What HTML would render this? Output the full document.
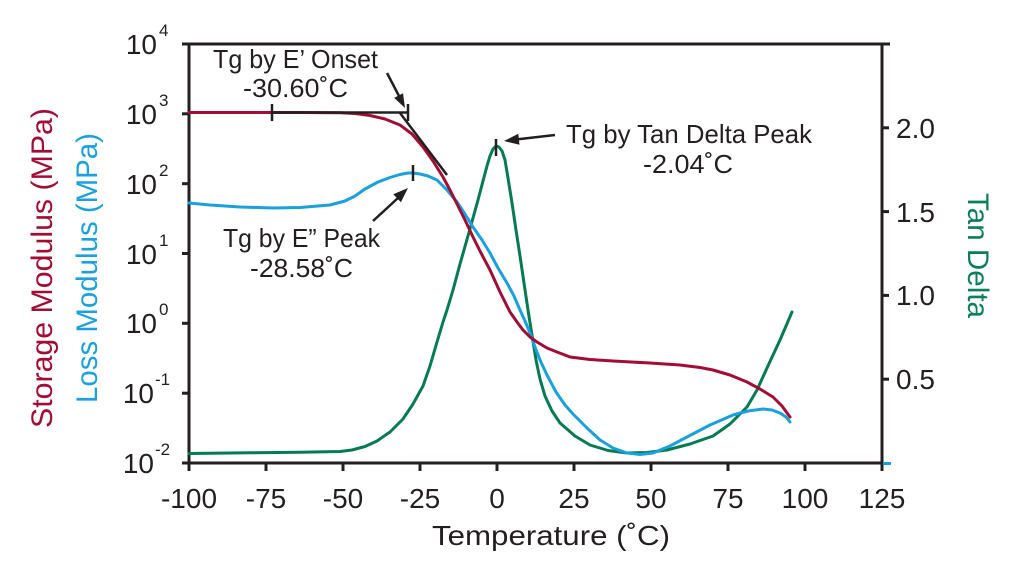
<!DOCTYPE html>
<html>
<head>
<meta charset="utf-8">
<style>
  html, body { margin: 0; padding: 0; background: #ffffff; }
  svg { display: block; }
  text { font-family: "Liberation Sans", "DejaVu Sans", sans-serif; fill: #231f20; }
</style>
</head>
<body>
<svg width="1024" height="576" viewBox="0 0 1024 576" xmlns="http://www.w3.org/2000/svg">
  <rect x="0" y="0" width="1024" height="576" fill="#ffffff"/>

  <!-- Axes -->
  <g stroke="#231f20" stroke-width="3" fill="none" stroke-linecap="butt">
    <line x1="182" y1="44" x2="890" y2="44"/>
    <line x1="189" y1="44" x2="189" y2="471"/>
    <line x1="882" y1="44" x2="882" y2="471"/>
    <line x1="182" y1="463" x2="882" y2="463"/>
    <!-- left ticks -->
    <line x1="182" y1="113.8" x2="189" y2="113.8"/>
    <line x1="182" y1="183.7" x2="189" y2="183.7"/>
    <line x1="182" y1="253.5" x2="189" y2="253.5"/>
    <line x1="182" y1="323.3" x2="189" y2="323.3"/>
    <line x1="182" y1="393.2" x2="189" y2="393.2"/>
    <!-- right ticks -->
    <line x1="882" y1="127.8" x2="889" y2="127.8"/>
    <line x1="882" y1="211.6" x2="889" y2="211.6"/>
    <line x1="882" y1="295.4" x2="889" y2="295.4"/>
    <line x1="882" y1="379.2" x2="889" y2="379.2"/>
    <!-- bottom ticks -->
    <line x1="266" y1="463" x2="266" y2="471"/>
    <line x1="343" y1="463" x2="343" y2="471"/>
    <line x1="420" y1="463" x2="420" y2="471"/>
    <line x1="497" y1="463" x2="497" y2="471"/>
    <line x1="574" y1="463" x2="574" y2="471"/>
    <line x1="651" y1="463" x2="651" y2="471"/>
    <line x1="728" y1="463" x2="728" y2="471"/>
    <line x1="805" y1="463" x2="805" y2="471"/>
  </g>
  <line x1="883" y1="463.5" x2="891" y2="463.5" stroke="#1aa0dc" stroke-width="3"/>

  <!-- Left tick labels -->
  <g font-size="28">
    <text x="157" y="54" text-anchor="end">10</text><text x="159" y="36" font-size="17">4</text>
    <text x="157" y="124" text-anchor="end">10</text><text x="159" y="106" font-size="17">3</text>
    <text x="157" y="194" text-anchor="end">10</text><text x="159" y="176" font-size="17">2</text>
    <text x="157" y="264" text-anchor="end">10</text><text x="159" y="246" font-size="17">1</text>
    <text x="157" y="333" text-anchor="end">10</text><text x="159" y="315" font-size="17">0</text>
    <text x="154" y="403" text-anchor="end">10</text><text x="155" y="385" font-size="17">-1</text>
    <text x="154" y="473" text-anchor="end">10</text><text x="155" y="455" font-size="17">-2</text>
  </g>

  <!-- Right tick labels -->
  <g font-size="28">
    <text x="896" y="138">2.0</text>
    <text x="896" y="222">1.5</text>
    <text x="896" y="305">1.0</text>
    <text x="896" y="389">0.5</text>
  </g>

  <!-- Bottom tick labels -->
  <g font-size="28" text-anchor="middle">
    <text x="189" y="508">-100</text>
    <text x="266" y="508">-75</text>
    <text x="343" y="508">-50</text>
    <text x="420" y="508">-25</text>
    <text x="497" y="508">0</text>
    <text x="574" y="508">25</text>
    <text x="651" y="508">50</text>
    <text x="728" y="508">75</text>
    <text x="805" y="508">100</text>
    <text x="882" y="508">125</text>
  </g>

  <!-- Axis titles -->
  <text x="432" y="545" font-size="28" textLength="238" lengthAdjust="spacingAndGlyphs">Temperature (˚C)</text>
  <text transform="translate(52,428) rotate(-90)" font-size="30" style="fill:#a10d35" textLength="320" lengthAdjust="spacingAndGlyphs">Storage Modulus (MPa)</text>
  <text transform="translate(97,403) rotate(-90)" font-size="30" style="fill:#1ba1dd" textLength="270" lengthAdjust="spacingAndGlyphs">Loss Modulus (MPa)</text>
  <text transform="translate(968,193) rotate(90)" font-size="30" style="fill:#0b7f5a" textLength="125" lengthAdjust="spacingAndGlyphs">Tan Delta</text>

  <!-- Curves -->
  <g fill="none" stroke-width="3" stroke-linejoin="round" stroke-linecap="round">
    <!-- Tan Delta (green) -->
    <polyline stroke="#067a52" points="189,453.5 250,452.8 300,452.2 340,451.5 352,450 365,446.5 377,441 390,432 403,419 413,404 423,386 430,366 437,342 443,322 447,310 453,290 460,264 466,243 473,218 478,200 483,181 487,166 490,156 493,149 496,146 499,147 502,151 505,160 508,178 512,203 516,230 520,256 524,283 528,310 532,335 536,360 540,379 545,396 552,411 560,423 575,436 590,445 608,450.5 627,453 647,452.5 667,450 690,444 713,436 730,424 747,407 757,390 767,368 780,340 792,312"/>
    <!-- Loss modulus (blue) -->
    <polyline stroke="#1aa0dc" points="189,203 210,205 240,207 273,208 300,207.5 330,205 345,201 355,196 365,189 378,182 390,177.5 400,174.5 408,173 413,173 420,174 428,176 437,180 447,190 457,202 465,214 473,227 482,240 490,253 498,268 507,283 514,296 520,310 525,321 530,333 535,347 540,360 547,375 556,392 565,405 573,414 587,428 600,440 613,448 627,453 640,454.5 653,453 670,446 687,437 710,425 733,415 748,411 763,409 772,410 780,413 786,417 790,422"/>
    <!-- Storage modulus (red) -->
    <polyline stroke="#a10d35" points="189,112.5 300,112.5 340,112.7 355,113.5 370,115.5 385,119 400,125 412,134 423,147 433,161 443,177 450,190 457,204 465,220 473,237 481,253 490,270 500,292 510,312 517,322 523,330 530,337 537,342 547,348 557,352 570,357 590,359.5 613,361 650,363 680,365 700,367.5 713,370 730,375 747,382 760,389 773,397 782,406 790,417"/>
  </g>

  <!-- Annotations: lines, ticks -->
  <g stroke="#231f20" stroke-width="2.5" fill="none">
    <line x1="272" y1="112.5" x2="408" y2="112.5"/>
    <line x1="272" y1="104" x2="272" y2="121"/>
    <line x1="408" y1="104" x2="408" y2="121"/>
    <line x1="400" y1="113" x2="447" y2="175"/>
    <line x1="413" y1="165" x2="413" y2="181"/>
    <line x1="496" y1="139" x2="496" y2="156"/>
    <!-- arrow shafts -->
    <line x1="387" y1="73" x2="399" y2="96"/>
    <line x1="373" y1="221" x2="398" y2="198"/>
    <line x1="555" y1="135" x2="518" y2="139.3"/>
  </g>
  <g fill="#231f20" stroke="none">
    <polygon points="405,108 394.2,97.9 403.0,93.3"/>
    <polygon points="408,188 400.9,202.3 393.3,194.3"/>
    <polygon points="504,141 518.3,133.7 519.5,144.7"/>
  </g>

  <!-- Annotation text -->
  <g font-size="26">
    <text x="213" y="68" textLength="165" lengthAdjust="spacingAndGlyphs">Tg by E’ Onset</text>
    <text x="243" y="97" textLength="105" lengthAdjust="spacingAndGlyphs">-30.60˚C</text>
    <text x="223" y="247" textLength="157" lengthAdjust="spacingAndGlyphs">Tg by E” Peak</text>
    <text x="250" y="277" textLength="103" lengthAdjust="spacingAndGlyphs">-28.58˚C</text>
    <text x="566" y="143" textLength="246" lengthAdjust="spacingAndGlyphs">Tg by Tan Delta Peak</text>
    <text x="643" y="173" textLength="90" lengthAdjust="spacingAndGlyphs">-2.04˚C</text>
  </g>
</svg>
</body>
</html>
